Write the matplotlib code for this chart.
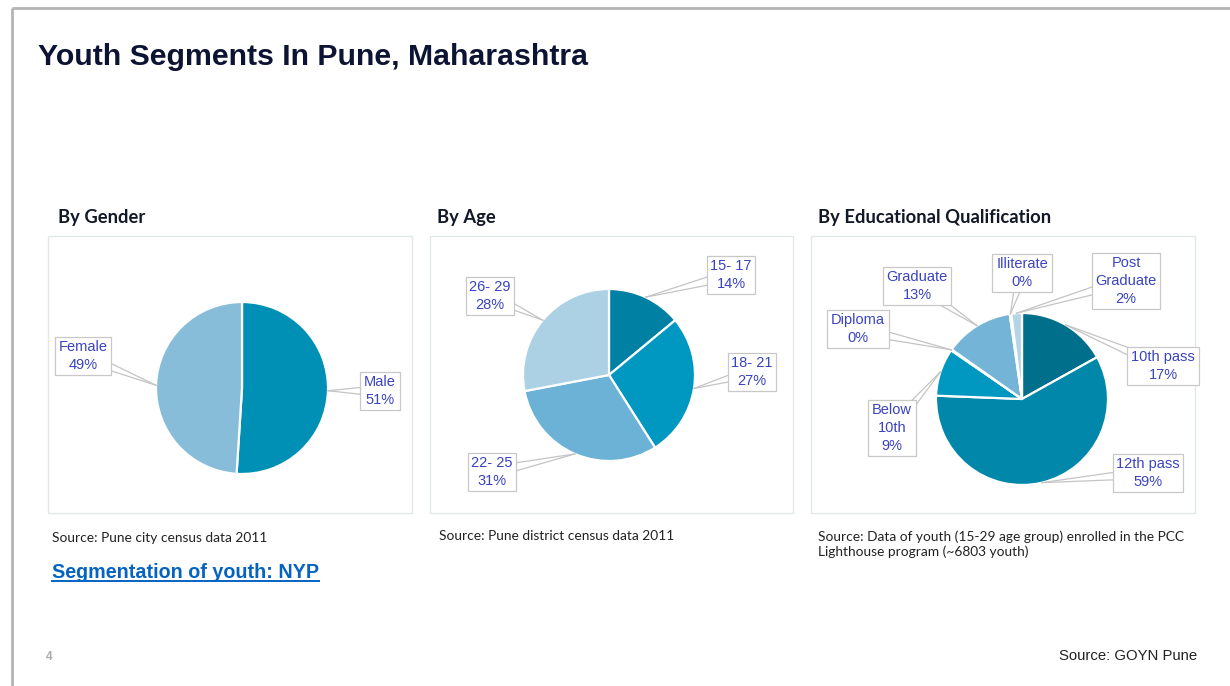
import textwrap
import numpy as np
import matplotlib
matplotlib.use("Agg")
import matplotlib.pyplot as plt
from matplotlib.patches import Rectangle

# ---------------- data ----------------
gender_labels = ["Male", "Female"]
gender_values = [51, 49]
gender_colors = ["#0090b6", "#88bdd9"]

age_labels = ["15- 17", "18- 21", "22- 25", "26- 29"]
age_values = [14, 27, 31, 28]
age_colors = ["#0080a3", "#0097c1", "#6bb2d6", "#acd0e4"]

edu_labels = ["10th pass", "12th pass", "Below 10th", "Diploma", "Graduate",
              "Illiterate", "Post Graduate"]
edu_values = [17, 59, 9, 0.2, 13, 0.3, 2]
edu_colors = ["#006f8c", "#0087aa", "#0097c0", "#3aa5cf", "#74b5d7",
              "#9ac7df", "#b3d5e7"]

titles = ["By Gender", "By Age", "By Educational Qualification"]
sources = ["Source: Pune city census data 2011",
           "Source: Pune district census data 2011",
           "Source: Data of youth (15-29 age group) enrolled in the PCC\nLighthouse program (~6803 youth)"]

# ---------------- layout (pixels) ----------------
W, H = 1230, 686
def Y(py):
    return H - py

fig = plt.figure(figsize=(W / 100, H / 100), dpi=100)
ax = fig.add_axes([0, 0, 1, 1])
ax.set_axis_off()

LABEL_COLOR = "#3a43c2"
LEADER_COLOR = "#c4c4c4"

panels = [
    dict(box=(48, 236, 412, 513), center=(242, 388), r=86,
         labels=gender_labels, values=gender_values, colors=gender_colors,
         lpos=[(380, 391), (83, 356)], title_xy=(58, 217), src_xy=(52, 532)),
    dict(box=(430, 236, 793, 513), center=(609, 375), r=86,
         labels=age_labels, values=age_values, colors=age_colors,
         lpos=[(731, 275), (752, 372), (492, 472), (490, 296)],
         title_xy=(437, 217), src_xy=(439, 530)),
    dict(box=(811, 236, 1195, 513), center=(1022, 399), r=86,
         labels=edu_labels, values=edu_values, colors=edu_colors,
         lpos=[(1163, 366), (1148, 473), (892, 428), (858, 329), (917, 286),
               (1022, 273), (1126, 281)],
         title_xy=(818, 217), src_xy=(818, 530)),
]

# page border
ax.plot([12, W], [Y(8), Y(8)], color="#b4b4b4", lw=2, solid_capstyle="butt")
ax.plot([12, 12], [Y(8), Y(H)], color="#b4b4b4", lw=2, solid_capstyle="butt")

ax.text(38, Y(57), "Youth Segments In Pune, Maharashtra", fontsize=21.8,
        fontweight="bold", color="#0d1433", family="Liberation Sans",
        va="center", ha="left")

for i, p in enumerate(panels):
    x0, y0, x1, y1 = p["box"]
    ax.add_patch(Rectangle((x0, Y(y1)), x1 - x0, y1 - y0, fill=False,
                           ec="#e2e8e8", lw=1.0, zorder=1))
    ax.text(p["title_xy"][0], Y(p["title_xy"][1]), titles[i], fontsize=13.2,
            fontweight="bold", color="#111827", family="Lato",
            va="center", ha="left")
    ax.text(p["src_xy"][0], Y(p["src_xy"][1]), sources[i], fontsize=9.9,
            color="#222222", family="Lato", va="top", ha="left",
            linespacing=1.3)

    cx, cy = p["center"]
    wedges, _ = ax.pie(p["values"], colors=p["colors"], startangle=90,
                       counterclock=False, radius=p["r"], center=(cx, Y(cy)),
                       wedgeprops=dict(edgecolor="white", linewidth=1.6),
                       frame=True)
    total = float(sum(p["values"]))
    for w, lab, v, (lx, ly) in zip(wedges, p["labels"], p["values"], p["lpos"]):
        mid = np.deg2rad((w.theta1 + w.theta2) / 2.0)
        axp = np.array([cx + p["r"] * np.cos(mid), Y(cy) + p["r"] * np.sin(mid)])
        c = np.array([lx, Y(ly)], dtype=float)
        d = axp - c
        d /= np.linalg.norm(d)
        n = np.array([-d[1], d[0]])
        for s in (-5.5, 5.5):
            st = c + s * n
            ax.plot([st[0], axp[0]], [st[1], axp[1]], color=LEADER_COLOR,
                    lw=0.9, zorder=3)
        pct = round(100 * v / total)
        txt = textwrap.fill(lab, 9, break_long_words=False)
        ax.text(lx, Y(ly), f"{txt}\n{pct}%", fontsize=10.5,
                color=LABEL_COLOR, family="Liberation Sans", ha="center",
                va="center", linespacing=1.32, zorder=5,
                bbox=dict(boxstyle="square,pad=0.25", fc="white",
                          ec="#c8c8c8", lw=0.9))

# link-like text with underline
link = ax.text(52, Y(572), "Segmentation of youth: NYP", fontsize=14.2,
               fontweight="bold", color="#0563c1", family="Liberation Sans",
               va="center", ha="left")
ax.text(46, Y(657), "4", fontsize=8.5, fontweight="bold", color="#aaaaaa",
        family="Liberation Sans", va="center", ha="left")
ax.text(1197, Y(656), "Source: GOYN Pune", fontsize=10.7, color="#222222",
        family="Liberation Sans", va="center", ha="right")

ax.set_xlim(0, W)
ax.set_ylim(0, H)
ax.set_aspect("auto")

fig.canvas.draw()
bb = link.get_window_extent(fig.canvas.get_renderer())
ax.plot([bb.x0, bb.x1], [bb.y0 + 1, bb.y0 + 1], color="#0563c1", lw=1.4)
ax.set_xlim(0, W)
ax.set_ylim(0, H)

fig.savefig("out.png", dpi=100, facecolor="white")
